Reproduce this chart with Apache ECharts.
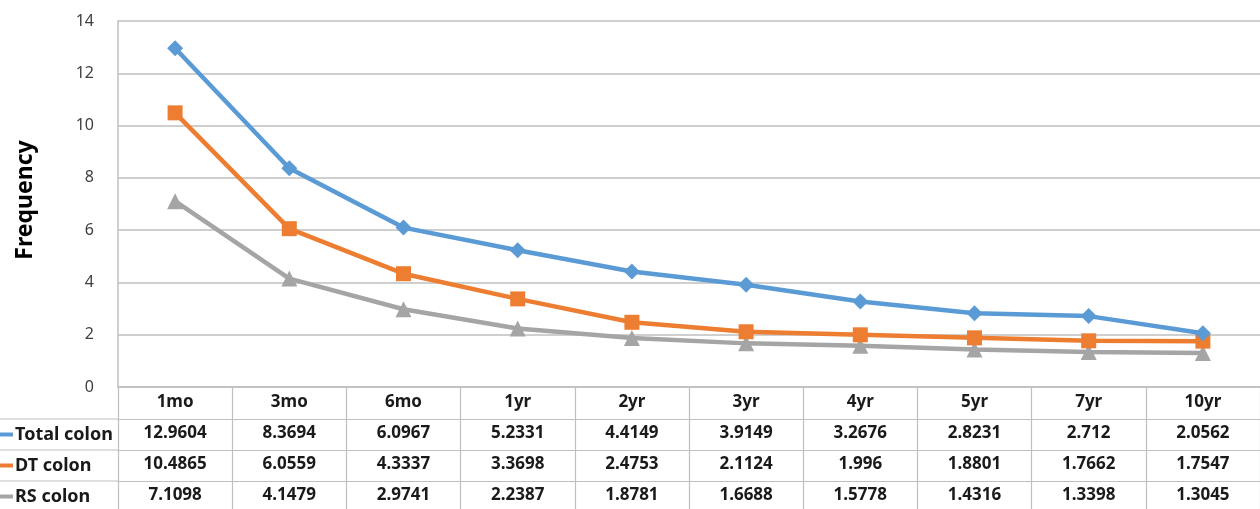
<!DOCTYPE html>
<html>
<head>
<meta charset="utf-8">
<script src="https://cdn.jsdelivr.net/npm/echarts@6/dist/echarts.min.js"></script>
<style>
  html, body { margin: 0; padding: 0; background: #fff; }
  #chart { width: 1260px; height: 509px; }
</style>
</head>
<body>
<div id="chart"></div>
<script>
// Follow-up periods
const categories = ['1mo', '3mo', '6mo', '1yr', '2yr', '3yr', '4yr', '5yr', '7yr', '10yr'];

// Series names and values
const seriesNames = ['Total colon', 'DT colon', 'RS colon'];
const totalColon = [12.9604, 8.3694, 6.0967, 5.2331, 4.4149, 3.9149, 3.2676, 2.8231, 2.712, 2.0562];
const dtColon = [10.4865, 6.0559, 4.3337, 3.3698, 2.4753, 2.1124, 1.996, 1.8801, 1.7662, 1.7547];
const rsColon = [7.1098, 4.1479, 2.9741, 2.2387, 1.8781, 1.6688, 1.5778, 1.4316, 1.3398, 1.3045];

// Y axis ticks
const yMin = 0, yMax = 14, yStep = 2;

const seriesValues = [totalColon, dtColon, rsColon];
const colors = ['#5B9BD5', '#ED7D31', '#A5A5A5'];
const symbols = ['diamond', 'rect', 'triangle'];
const symbolSizes = [16, 15, 16];

const FONT = 'Noto Sans';
const gridColor = '#BFBFBF';
const textColor = '#1a1a1a';

const gridLeft = 118, gridTop = 21, gridBottom = 122;
const rowOffsets = [32, 63, 94];

const chart = echarts.init(document.getElementById('chart'), null, { renderer: 'canvas' });

// Header axis: category names; its ticks form the table's vertical rules
const xAxes = [{
  type: 'category',
  data: categories,
  position: 'bottom',
  boundaryGap: true,
  axisLine: { show: true, lineStyle: { color: gridColor, width: 1.5 } },
  axisTick: { show: true, interval: 0, length: 122, lineStyle: { color: gridColor, width: 1.2 } },
  axisLabel: { interval: 0, margin: 7, fontFamily: FONT, fontSize: 17, fontWeight: 'bold', color: textColor },
  splitLine: { show: false }
}];

// One extra axis per series: its labels are the data-table row
seriesValues.forEach((vals, i) => {
  xAxes.push({
    type: 'category',
    data: categories,
    position: 'bottom',
    offset: rowOffsets[i],
    boundaryGap: true,
    axisLine: { show: true, lineStyle: { color: gridColor, width: 1.2 } },
    axisTick: { show: false },
    axisLabel: {
      interval: 0, margin: 6,
      fontFamily: FONT, fontSize: 17, fontWeight: 'bold', color: textColor,
      formatter: (v, idx) => String(vals[idx])
    }
  });
});

const series = seriesValues.map((vals, i) => ({
  name: seriesNames[i],
  type: 'line',
  xAxisIndex: 0,
  data: vals,
  symbol: symbols[i],
  symbolSize: symbolSizes[i],
  lineStyle: { color: colors[i], width: 4.5 },
  itemStyle: { color: colors[i] },
  z: 10 - i,
  animation: false
}));

const graphics = [];
// Rotated y-axis title
graphics.push({
  type: 'text',
  x: 25, y: 200, rotation: Math.PI / 2,
  style: { text: 'Frequency', font: `bold 23px "${FONT}"`, fill: '#000', align: 'center', verticalAlign: 'middle' }
});

chart.setOption({
  animation: false,
  grid: { left: gridLeft, right: -1, top: gridTop, bottom: gridBottom, containLabel: false },
  xAxis: xAxes,
  yAxis: {
    type: 'value',
    min: yMin, max: yMax, interval: yStep,
    axisLine: { show: true, lineStyle: { color: gridColor, width: 1.5 } },
    axisTick: { show: false },
    axisLabel: { margin: 24, fontFamily: FONT, fontSize: 16, color: '#404040' },
    splitLine: { show: true, lineStyle: { color: gridColor, width: 1.5 } }
  },
  series: series,
  graphic: graphics
});

// Legend column of the data table, placed from the axes' pixel positions
const rowLines = [];
const axisY0 = chart.convertToPixel({ yAxisIndex: 0 }, yMin);
const lineYs = rowOffsets.map(o => axisY0 + o);
lineYs.forEach(y => {
  rowLines.push({
    type: 'line',
    shape: { x1: 0, y1: y, x2: gridLeft, y2: y },
    style: { stroke: gridColor, lineWidth: 1.2 }
  });
});
const rowBottoms = lineYs.slice(1).concat([lineYs[lineYs.length - 1] + 31]);
seriesNames.forEach((name, i) => {
  const cy = (lineYs[i] + rowBottoms[i]) / 2;
  rowLines.push({
    type: 'line',
    shape: { x1: 0, y1: cy, x2: 13, y2: cy },
    style: { stroke: colors[i], lineWidth: 4 }
  });
  rowLines.push({
    type: 'text',
    x: 15, y: cy,
    style: { text: name, font: `bold 18px "${FONT}"`, fill: textColor, align: 'left', verticalAlign: 'middle' }
  });
});
chart.setOption({ graphic: graphics.concat(rowLines) });
</script>
</body>
</html>
